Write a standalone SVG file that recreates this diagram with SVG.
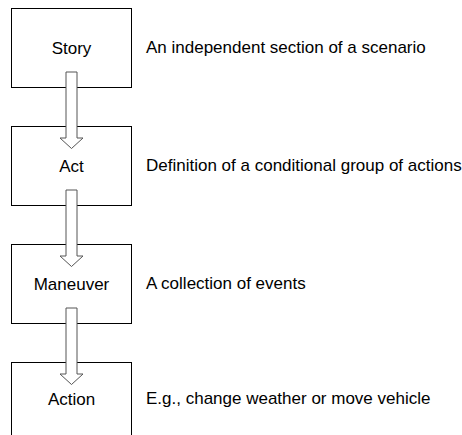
<svg xmlns="http://www.w3.org/2000/svg" width="462" height="435" viewBox="0 0 462 435">
<style>
.box{fill:#fff;stroke:#000;stroke-width:1}
.arr{fill:#fff;stroke:#555;stroke-width:1}
text{font-family:"Liberation Sans",Arial,sans-serif;font-size:17px;fill:#000}
.c{text-anchor:middle}
</style>
<rect width="462" height="435" fill="#fff"/>
<g id="story"><rect class="box" x="11.5" y="8.5" width="120" height="79"/><text class="c" x="71.5" y="54">Story</text><text x="146" y="53">An independent section of a scenario</text></g>
<g id="act"><rect class="box" x="11.5" y="126.5" width="120" height="79"/><text class="c" x="71.5" y="172">Act</text><text x="146" y="171">Definition of a conditional group of actions</text></g>
<g id="maneuver"><rect class="box" x="11.5" y="244.5" width="120" height="79"/><text class="c" x="71.5" y="290">Maneuver</text><text x="146" y="289">A collection of events</text></g>
<g id="action"><rect class="box" x="11.5" y="362.5" width="120" height="79"/><text class="c" x="71.5" y="405">Action</text><text x="146" y="404">E.g., change weather or move vehicle</text></g>
<g id="connectors">
<path class="arr" d="M66 72 H77 V138 H83 L71.5 148.5 L60 138 H66 Z"/>
<path class="arr" d="M66 190 H77 V256 H83 L71.5 266.5 L60 256 H66 Z"/>
<path class="arr" d="M66 308 H77 V374 H83 L71.5 384.5 L60 374 H66 Z"/>
</g>
</svg>
